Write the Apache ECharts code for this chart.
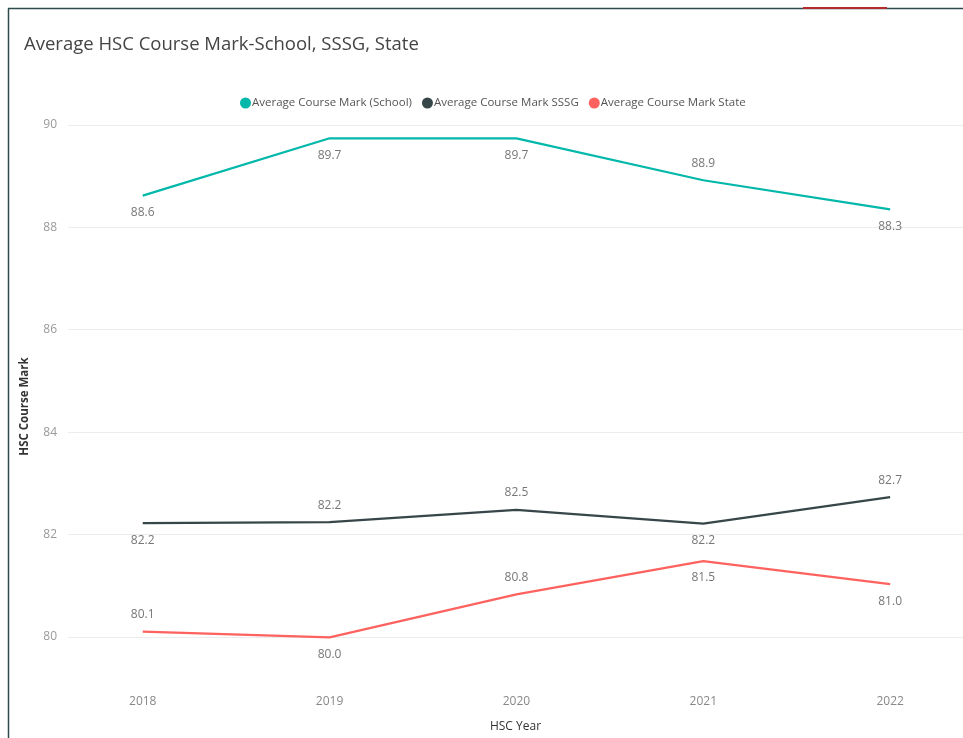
<!DOCTYPE html>
<html>
<head>
<meta charset="utf-8">
<script src="https://cdn.jsdelivr.net/npm/echarts@6/dist/echarts.min.js"></script>
<style>
html,body{margin:0;padding:0;background:#fff;}
#chart{width:963px;height:738px;}
</style>
</head>
<body>
<div id="chart"></div>
<script>
const years = [2018, 2019, 2020, 2021, 2022];
const schoolMarks = [88.62, 89.74, 89.74, 88.92, 88.35];
const sssgMarks = [82.22, 82.24, 82.48, 82.21, 82.73];
const stateMarks = [80.10, 79.99, 80.83, 81.48, 81.03];
const yTicks = [80, 82, 84, 86, 88, 90];
const seriesNames = ['Average Course Mark (School)', 'Average Course Mark SSSG', 'Average Course Mark State'];

// label placement (style, separate from data)
const schoolPos = ['bottom', 'bottom', 'bottom', 'top', 'bottom'];
const sssgPos = ['bottom', 'top', 'top', 'bottom', 'top'];
const statePos = ['top', 'bottom', 'top', 'bottom', 'bottom'];

function build(values, pos) {
  return years.map((y, i) => ({
    value: [y, values[i]],
    label: { position: pos[i] }
  }));
}

const font = '"Open Sans", "Noto Sans", sans-serif';
const labelStyle = {
  show: true,
  color: '#777',
  fontSize: 12,
  fontFamily: font,
  distance: 11,
  formatter: p => p.value[1].toFixed(1)
};

function lineSeries(name, values, pos, color) {
  return {
    name: name,
    type: 'line',
    data: build(values, pos),
    symbol: 'circle',
    symbolSize: 0,
    showSymbol: true,
    lineStyle: { color: color, width: 2.2 },
    itemStyle: { color: color },
    label: labelStyle,
    emphasis: { disabled: true }
  };
}

const chart = echarts.init(document.getElementById('chart'));
chart.setOption({
  animation: false,
  backgroundColor: '#fff',
  title: {
    text: 'Average HSC Course Mark-School, SSSG, State',
    left: 19,
    top: 30,
    textStyle: { color: '#444', fontSize: 18.5, fontWeight: 'normal', fontFamily: font }
  },
  legend: {
    top: 92,
    left: 235,
    icon: 'circle',
    itemWidth: 11,
    itemHeight: 11,
    itemGap: 10,
    textStyle: { color: '#555', fontSize: 11.5, fontFamily: font, padding: [0, 0, 0, -4] },
    data: seriesNames
  },
  grid: { left: 68, right: 0, top: 125, bottom: 46 },
  xAxis: {
    type: 'value',
    min: 2017.6,
    max: 2022.39,
    name: 'HSC Year',
    nameLocation: 'middle',
    nameGap: 33,
    nameTextStyle: { color: '#333', fontSize: 12, fontFamily: font },
    axisLine: { show: false },
    axisTick: { show: false, customValues: years },
    splitLine: { show: false },
    axisLabel: {
      customValues: years,
      color: '#888',
      fontSize: 12,
      fontFamily: font,
      margin: 8,
      formatter: v => String(v)
    }
  },
  yAxis: {
    type: 'value',
    min: 79,
    max: 90,
    name: 'HSC Course Mark',
    nameLocation: 'middle',
    nameGap: 37,
    nameTextStyle: { color: '#333', fontSize: 11.5, fontWeight: 'bold', fontFamily: font },
    axisLine: { show: false },
    axisTick: { show: false, customValues: yTicks },
    axisLabel: {
      customValues: yTicks,
      color: '#999',
      fontSize: 12,
      fontFamily: font,
      margin: 11
    },
    splitLine: { show: true, lineStyle: { color: '#ececec', width: 1 } }
  },
  graphic: [
    { type: 'line', shape: { x1: 8.5, y1: 8.5, x2: 8.5, y2: 738 }, style: { stroke: '#2f4a4c', lineWidth: 1.5 } },
    { type: 'line', shape: { x1: 8, y1: 8.5, x2: 963, y2: 8.5 }, style: { stroke: '#2f4a4c', lineWidth: 1.5 } },
    { type: 'line', shape: { x1: 803, y1: 8, x2: 887, y2: 8 }, style: { stroke: '#b52a2a', lineWidth: 2 } }
  ],
  series: [
    lineSeries(seriesNames[0], schoolMarks, schoolPos, '#01B8AA'),
    lineSeries(seriesNames[1], sssgMarks, sssgPos, '#374649'),
    lineSeries(seriesNames[2], stateMarks, statePos, '#FD625E')
  ]
});
</script>
</body>
</html>
